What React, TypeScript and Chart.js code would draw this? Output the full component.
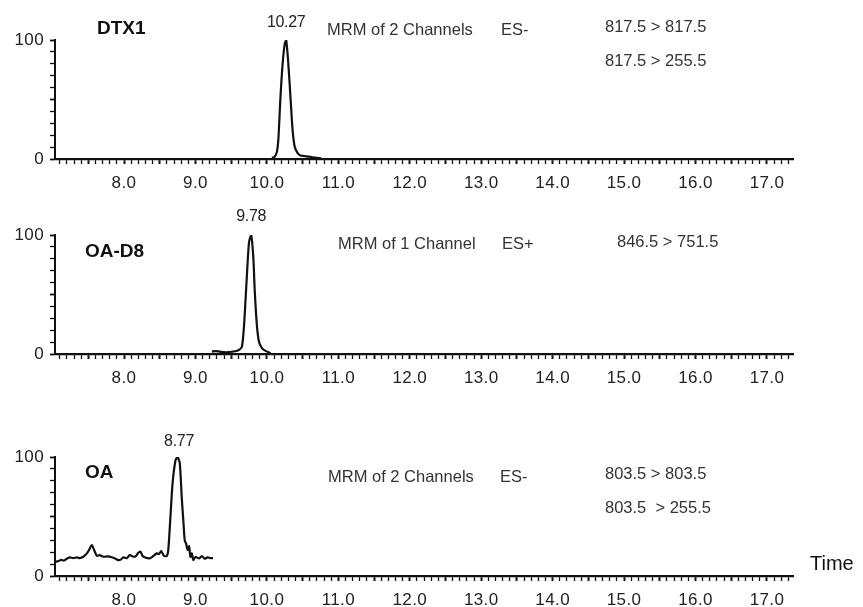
import React, { useEffect, useRef } from 'react';
import { Chart, registerables } from 'chart.js';

Chart.register(...registerables);

// ---- Data (retention time in min, relative intensity in %) ----
const dtx1Time = [10.07, 10.11, 10.14, 10.16, 10.19, 10.22, 10.25, 10.27, 10.30, 10.33, 10.36, 10.39, 10.43, 10.47, 10.52, 10.58, 10.64, 10.70, 10.76];
const dtx1Intensity = [1, 2, 6, 16, 52, 80, 97, 100, 80, 52, 24, 10, 5, 3, 2.5, 2, 1.5, 1, 0.5];

const oaD8Time = [9.23, 9.28, 9.34, 9.40, 9.46, 9.52, 9.57, 9.61, 9.65, 9.68, 9.72, 9.75, 9.78, 9.81, 9.83, 9.86, 9.89, 9.93, 9.97, 10.02, 10.05];
const oaD8Intensity = [2, 2.5, 2, 1.5, 1.5, 2, 2.5, 3.5, 6, 24, 66, 94, 100, 81, 53, 24, 10, 5, 3, 1.5, 0.5];

const oaTime = [7.04, 7.08, 7.12, 7.16, 7.20, 7.24, 7.29, 7.34, 7.38, 7.43, 7.48, 7.51, 7.55, 7.58, 7.62, 7.66, 7.71, 7.77, 7.83, 7.88, 7.92, 7.96, 7.99, 8.04, 8.08, 8.13, 8.17, 8.20, 8.23, 8.26, 8.29, 8.33, 8.36, 8.41, 8.46, 8.49, 8.52, 8.56, 8.60, 8.62, 8.65, 8.68, 8.72, 8.75, 8.78, 8.81, 8.83, 8.85, 8.87, 8.89, 8.91, 8.93, 8.95, 8.97, 9.00, 9.05, 9.09, 9.13, 9.17, 9.21, 9.245];
const oaIntensity = [12, 12.5, 13.5, 13, 14.5, 15.7, 15, 15.7, 15, 16.2, 19, 21.8, 26, 22, 17, 17.5, 16.2, 16.5, 15.7, 14.5, 13.4, 14, 15.7, 15, 17.6, 16.2, 17, 19.5, 20.5, 16.8, 15.7, 15, 14.8, 16.8, 19, 18.5, 21, 16.8, 17, 22, 50, 78, 97, 100, 95, 64, 47, 30, 27, 22, 25, 16, 19, 13.4, 16, 14.8, 16.8, 14.5, 15.7, 15, 15];

// ---- Axes ----
const xMin = 7.034;
const xMax = 17.364;
const xTickLabelValues = [8, 9, 10, 11, 12, 13, 14, 15, 16, 17];
const yTickLabelValues = [0, 100];
const xMinorTickValues = Array.from({ length: 103 }, (_, i) => (71 + i) / 10);
const yMinorTickValues = [0, 10, 20, 30, 40, 50, 60, 70, 80, 90, 100];

// ---- Peak labels ----
const peakTimes = [10.27, 9.78, 8.77];
const peakLabels = ['10.27', '9.78', '8.77'];

const FONT = "'Liberation Sans', Arial, Helvetica, sans-serif";

type Txt = { text: string; x?: number; peak?: number; y: number; size: number; bold?: boolean; color?: string; spacing?: number; align?: CanvasTextAlign };

const panels = [
  {
    top: 0, height: 195, time: dtx1Time, values: dtx1Intensity,
    texts: [
      { text: 'DTX1', x: 97, y: 29, size: 19, bold: true, color: '#111' },
      { text: peakLabels[0], peak: peakTimes[0], y: 23, size: 16, color: '#222', spacing: -0.3, align: 'center' },
      { text: 'MRM of 2 Channels', x: 327, y: 30, size: 16.5, color: '#333', spacing: 0 },
      { text: 'ES-', x: 501, y: 30, size: 16.5, color: '#333' },
      { text: '817.5 > 817.5', x: 605, y: 27, size: 16.5, color: '#333' },
      { text: '817.5 > 255.5', x: 605, y: 61, size: 16.5, color: '#333' },
    ] as Txt[],
  },
  {
    top: 195, height: 200, time: oaD8Time, values: oaD8Intensity,
    texts: [
      { text: 'OA-D8', x: 85, y: 57, size: 19, bold: true, color: '#111' },
      { text: peakLabels[1], peak: peakTimes[1], y: 22, size: 16, color: '#222', spacing: -0.3, align: 'center' },
      { text: 'MRM of 1 Channel', x: 338, y: 49, size: 16.5, color: '#333' },
      { text: 'ES+', x: 502, y: 49, size: 16.5, color: '#333' },
      { text: '846.5 > 751.5', x: 617, y: 47, size: 16.5, color: '#333' },
    ] as Txt[],
  },
  {
    top: 417, height: 190, time: oaTime, values: oaIntensity,
    texts: [
      { text: 'OA', x: 85, y: 56, size: 19, bold: true, color: '#111' },
      { text: peakLabels[2], peak: peakTimes[2], y: 25, size: 16, color: '#222', spacing: -0.3, align: 'center' },
      { text: 'MRM of 2 Channels', x: 328, y: 60, size: 16.5, color: '#333' },
      { text: 'ES-', x: 500, y: 60, size: 16.5, color: '#333' },
      { text: '803.5 > 803.5', x: 605, y: 57, size: 16.5, color: '#333' },
      { text: '803.5  > 255.5', x: 605, y: 91, size: 16.5, color: '#333' },
      { text: 'Time', x: 810, y: 147, size: 20, color: '#111' },
    ] as Txt[],
  },
];

const CHART_TOP = 40;
const CHART_BOTTOM = 159;
const AXIS_LEFT = 55;
const AXIS_RIGHT = 793;
const WIDTH = 863;

function Panel({ cfg }: { cfg: typeof panels[number] }) {
  const ref = useRef<HTMLCanvasElement | null>(null);
  useEffect(() => {
    if (!ref.current) return;
    const texts = cfg.texts;
    const textPlugin = {
      id: 'panelTexts',
      beforeDraw(chart: any) {
        chart.ctx.letterSpacing = '0.4px';
      },
      afterDraw(chart: any) {
        const ctx = chart.ctx as CanvasRenderingContext2D;
        ctx.save();
        for (const t of texts) {
          ctx.font = `${t.bold ? 'bold ' : ''}${t.size}px ${FONT}`;
          ctx.fillStyle = t.color || '#222';
          ctx.textBaseline = 'middle';
          ctx.textAlign = t.align || 'left';
          (ctx as any).letterSpacing = `${t.spacing || 0}px`;
          const x = t.peak != null ? chart.scales.x.getPixelForValue(t.peak) : (t.x as number);
          ctx.fillText(t.text, x, t.y);
        }
        ctx.restore();
      },
    };
    const xAxisHeight = cfg.height - CHART_BOTTOM;
    const chart = new Chart(ref.current, {
      type: 'line',
      data: {
        datasets: [
          {
            data: cfg.time.map((t, i) => ({ x: t, y: cfg.values[i] })),
            borderColor: '#111',
            borderWidth: 2.2,
            pointRadius: 0,
            tension: 0.25,
            fill: false,
          },
        ],
      },
      options: {
        animation: false,
        responsive: false,
        events: [],
        layout: { padding: { left: 0, right: WIDTH - AXIS_RIGHT, top: CHART_TOP, bottom: 0 } },
        plugins: { legend: { display: false }, tooltip: { enabled: false }, title: { display: false } },
        scales: {
          x: {
            type: 'linear',
            min: xMin,
            max: xMax,
            afterBuildTicks: (s: any) => {
              s.ticks = xMinorTickValues.map((v) => ({ value: v }));
            },
            afterFit: (s: any) => {
              s.height = xAxisHeight;
            },
            ticks: {
              autoSkip: false,
              maxRotation: 0,
              minRotation: 0,
              padding: 9,
              color: '#222',
              font: { family: FONT, size: 17 },
              callback: (v: any) => {
                const n = Number(v);
                return xTickLabelValues.some((k) => Math.abs(k - n) < 1e-6) ? n.toFixed(1) : '';
              },
            },
            grid: {
              drawOnChartArea: false,
              drawTicks: true,
              tickLength: 5,
              tickColor: '#111',
              tickWidth: (c: any) => {
                const v = c.tick ? c.tick.value : 0;
                return Math.abs(v * 2 - Math.round(v * 2)) < 1e-6 ? 2 : 1.3;
              },
            },
            border: { display: true, color: '#111', width: 2.2 },
          },
          y: {
            type: 'linear',
            min: 0,
            max: 100,
            afterBuildTicks: (s: any) => {
              s.ticks = yMinorTickValues.map((v) => ({ value: v }));
            },
            afterFit: (s: any) => {
              s.width = AXIS_LEFT;
            },
            ticks: {
              autoSkip: false,
              padding: 6,
              color: '#222',
              font: { family: FONT, size: 17 },
              callback: (v: any) => (yTickLabelValues.includes(Number(v)) ? String(v) : ''),
            },
            grid: {
              drawOnChartArea: false,
              drawTicks: true,
              tickLength: 5,
              tickColor: '#111',
              tickWidth: (c: any) => {
                const v = c.tick ? c.tick.value : 0;
                return v % 50 === 0 ? 1.8 : 1.3;
              },
            },
            border: { display: true, color: '#111', width: 2 },
          },
        },
      },
      plugins: [textPlugin],
    } as any);
    return () => chart.destroy();
  }, [cfg]);
  return (
    <div style={{ position: 'absolute', left: 0, top: cfg.top, width: WIDTH, height: cfg.height }}>
      <canvas ref={ref} width={WIDTH} height={cfg.height} style={{ display: 'block' }} />
    </div>
  );
}

export default function App() {
  return (
    <div style={{ position: 'absolute', left: 0, top: 0, width: WIDTH, height: 607, overflow: 'hidden', background: '#fff' }}>
      {panels.map((p, i) => (
        <Panel key={i} cfg={p} />
      ))}
    </div>
  );
}
